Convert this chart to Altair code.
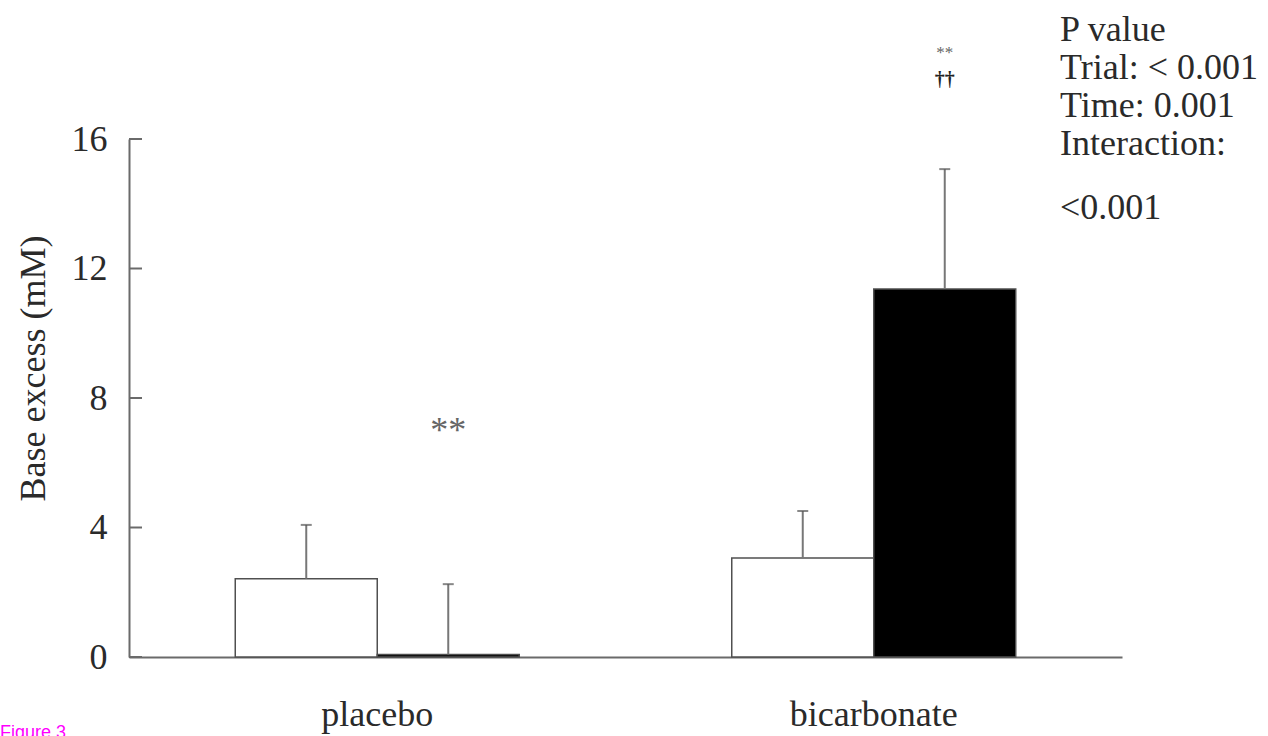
import altair as alt
import pandas as pd

# ---- data ----
groups = ["placebo", "placebo", "bicarbonate", "bicarbonate"]
times = ["pre", "post", "pre", "post"]
means = [2.42, 0.08, 3.06, 11.37]
sds = [1.66, 2.17, 1.45, 3.70]
y_ticks = [0, 4, 8, 12, 16]
group_order = ["placebo", "bicarbonate"]
time_order = ["pre", "post"]
pvalue_lines = ["P value", "Trial: < 0.001", "Time: 0.001", "Interaction:"]
pvalue_last = "<0.001"
figure_label = "Figure 3"

df = pd.DataFrame({
    "group": groups,
    "time": times,
    "mean": means,
    "top": [m + s for m, s in zip(means, sds)],
})
tick_df = pd.DataFrame({"v": y_ticks})
one = pd.DataFrame({"k": [0]})

ann_df = pd.DataFrame({
    "group": ["placebo", "bicarbonate", "bicarbonate"],
    "time": ["post", "post", "post"],
    "y": [6.65, 18.5, 17.65],
    "label": ["**", "**", "††"],
    "kind": ["big", "small", "dagger"],
})

SERIF = "Liberation Serif"
TXT = "#2a2a2a"
AX = "#6a6a6a"

x_enc = alt.X(
    "group:N",
    sort=group_order,
    scale=alt.Scale(paddingInner=0.428, paddingOuter=0.214),
    axis=alt.Axis(
        ticks=False, labelAngle=0, labelFont=SERIF, labelFontSize=36,
        labelColor=TXT, labelPadding=68, labelBaseline="alphabetic",
        domainColor=AX, domainWidth=2, title=None, grid=False,
    ),
)
xoff = alt.XOffset("time:N", sort=time_order,
                   scale=alt.Scale(paddingInner=0, paddingOuter=0))
y_scale = alt.Scale(domain=[0, 16], nice=False, zero=True)

bars = alt.Chart(df).mark_bar(stroke="#505050", strokeWidth=1.5).encode(
    x=x_enc,
    xOffset=xoff,
    y=alt.Y(
        "mean:Q", scale=y_scale,
        axis=alt.Axis(
            values=y_ticks, ticks=False, grid=False, labelFont=SERIF,
            labelFontSize=36, labelColor=TXT, labelPadding=22,
            domainColor=AX, domainWidth=2,
            title="Base excess (mM)", titleFont=SERIF, titleFontSize=36,
            titleFontWeight="normal", titleColor=TXT, titleAngle=270,
            titleX=-85, titleY=229, titleAlign="center",
            titleBaseline="alphabetic",
        ),
    ),
    color=alt.Color("time:N", scale=alt.Scale(domain=time_order,
                    range=["white", "black"]), legend=None),
)

err = alt.Chart(df).mark_rule(color="#777777", strokeWidth=2).encode(
    x=alt.X("group:N", sort=group_order), xOffset=xoff,
    y=alt.Y("mean:Q", scale=y_scale), y2="top:Q",
)
caps = alt.Chart(df).mark_tick(color="#555555", thickness=2, size=11).encode(
    x=alt.X("group:N", sort=group_order), xOffset=xoff,
    y=alt.Y("top:Q", scale=y_scale),
)

inner_ticks = alt.Chart(tick_df).mark_rule(color=AX, strokeWidth=2).encode(
    y=alt.Y("v:Q", scale=y_scale), x=alt.value(0), x2=alt.value(13),
)

big_star = alt.Chart(ann_df).transform_filter(alt.datum.kind == "big").mark_text(
    font=SERIF, fontSize=36, color="#666666", baseline="alphabetic"
).encode(x=alt.X("group:N", sort=group_order), xOffset=xoff,
         y=alt.Y("y:Q", scale=y_scale), text="label:N")
small_star = alt.Chart(ann_df).transform_filter(alt.datum.kind == "small").mark_text(
    font=SERIF, fontSize=17, color="#666666", baseline="alphabetic"
).encode(x=alt.X("group:N", sort=group_order), xOffset=xoff,
         y=alt.Y("y:Q", scale=y_scale), text="label:N")
dagger = alt.Chart(ann_df).transform_filter(alt.datum.kind == "dagger").mark_text(
    font=SERIF, fontSize=20, color="#222222", baseline="alphabetic",
    fontWeight="bold",
).encode(x=alt.X("group:N", sort=group_order), xOffset=xoff,
         y=alt.Y("y:Q", scale=y_scale), text="label:N")

pval = alt.Chart(one).mark_text(
    font=SERIF, fontSize=36, color=TXT, align="left", baseline="alphabetic",
    lineHeight=38,
).encode(
    x=alt.value(931), y=alt.value(-98),
    text=alt.value(pvalue_lines),
)
pval2 = alt.Chart(one).mark_text(
    font=SERIF, fontSize=36, color=TXT, align="left", baseline="alphabetic",
).encode(x=alt.value(931), y=alt.value(80), text=alt.value(pvalue_last))

fig = alt.Chart(one).mark_text(
    font="Liberation Sans", fontSize=18, color="#ff00ff", align="left",
    baseline="alphabetic",
).encode(x=alt.value(-129), y=alt.value(599), text=alt.value(figure_label))

chart = alt.layer(
    bars, err, caps, inner_ticks, big_star, small_star, dagger, pval, pval2, fig
).properties(
    width=993, height=518,
    padding={"left": 129, "top": 139, "right": 146, "bottom": 79},
    autosize=alt.AutoSizeParams(type="none"),
    background="white",
).configure_view(stroke=None)

chart.save("out.html", embed_options={"renderer": "svg", "actions": False})
